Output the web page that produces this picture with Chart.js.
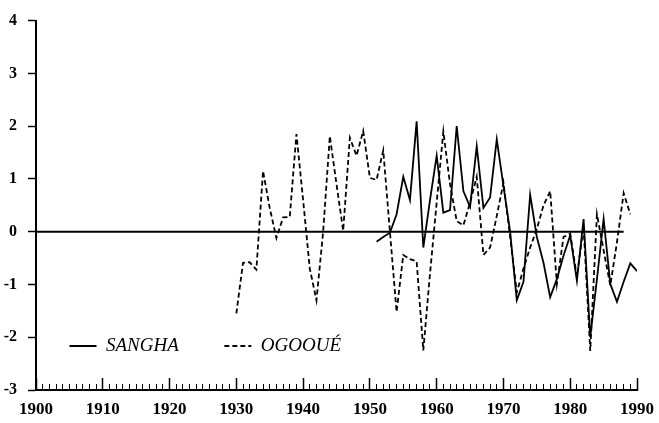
<!DOCTYPE html>
<html>
<head>
<meta charset="utf-8">
<script src="https://cdn.jsdelivr.net/npm/chart.js@4.4.0/dist/chart.umd.min.js"></script>
<style>
  html, body { margin: 0; padding: 0; background: #ffffff; }
  #wrap { width: 659px; height: 423px; }
</style>
</head>
<body>
<div id="wrap"><canvas id="c" width="659" height="423"></canvas></div>
<script>
// ---- data ----
const seriesNames = ['SANGHA', 'OGOOUÉ'];

const sanghaYears = [1951, 1952, 1953, 1954, 1955, 1956, 1957, 1958, 1959, 1960,
                     1961, 1962, 1963, 1964, 1965, 1966, 1967, 1968, 1969, 1970,
                     1971, 1972, 1973, 1974, 1975, 1976, 1977, 1978, 1979, 1980,
                     1981, 1982, 1983, 1984, 1985, 1986, 1987, 1988, 1989, 1990];
const sanghaValues = [-0.19, -0.1, -0.02, 0.33, 1.04, 0.6, 2.09, -0.3, 0.6, 1.44,
                      0.36, 0.41, 2.0, 0.77, 0.47, 1.62, 0.45, 0.65, 1.75, 0.87,
                      0.0, -1.3, -0.95, 0.7, -0.1, -0.59, -1.24, -0.9, -0.45, -0.07,
                      -0.93, 0.24, -2.0, -0.9, 0.24, -0.99, -1.33, -0.95, -0.6, -0.75];

const ogoueYears = [1930, 1931, 1932, 1933, 1934, 1935, 1936, 1937, 1938, 1939,
                    1940, 1941, 1942, 1943, 1944, 1945, 1946, 1947, 1948, 1949,
                    1950, 1951, 1952, 1953, 1954, 1955, 1956, 1957, 1958, 1959,
                    1960, 1961, 1962, 1963, 1964, 1965, 1966, 1967, 1968, 1969,
                    1970, 1971, 1972, 1973, 1974, 1975, 1976, 1977, 1978, 1979,
                    1980, 1981, 1982, 1983, 1984, 1985, 1986, 1987, 1988, 1989];
const ogoueValues = [-1.55, -0.59, -0.58, -0.72, 1.15, 0.45, -0.12, 0.27, 0.28, 1.85,
                     0.6, -0.7, -1.3, 0.0, 1.81, 0.9, 0.02, 1.78, 1.44, 1.91,
                     1.02, 0.98, 1.54, 0.0, -1.52, -0.44, -0.52, -0.56, -2.25, -0.8,
                     0.55, 1.9, 0.9, 0.2, 0.12, 0.55, 1.04, -0.44, -0.3, 0.3,
                     0.93, -0.1, -1.15, -0.7, -0.3, 0.05, 0.5, 0.77, -0.99, -0.1,
                     -0.04, -0.85, 0.1, -2.26, 0.33, -0.35, -1.02, -0.2, 0.73, 0.33];

const zeroLineYears = [1900, 1988];
const zeroLineValues = [0, 0];

const xRange = [1900, 1990];
const yRange = [-3, 4];

// ---- helpers ----
function toPoints(xs, ys) { return xs.map((x, i) => ({ x: x, y: ys[i] })); }

const SERIF = "'Liberation Serif', 'DejaVu Serif', serif";

// Puts the library legend inside the plot area (bottom-left) without it taking layout space
const LEGEND_LEFT = 24, LEGEND_TOP = 291;
const legendPlacer = {
  id: 'legendPlacer',
  afterInit(chart) {
    const lg = chart.legend;
    if (!lg) return;
    const origFit = lg.fit.bind(lg);
    lg.fit = function () { origFit(); this._fullH = this.height; this.height = 0; };
  },
  afterLayout(chart) {
    const lg = chart.legend;
    if (!lg) return;
    lg.left = LEGEND_LEFT;
    lg.top = LEGEND_TOP;
    lg.right = 659;
    lg.width = lg.right - lg.left;
    lg.height = Math.max(lg._fullH || 0, 60);
    lg.bottom = lg.top + lg.height;
  }
};

new Chart(document.getElementById('c'), {
  type: 'line',
  data: {
    datasets: [
      { label: seriesNames[0], data: toPoints(sanghaYears, sanghaValues),
        borderColor: '#000', backgroundColor: '#000', borderWidth: 1.8,
        pointRadius: 0, tension: 0, fill: false },
      { label: seriesNames[1], data: toPoints(ogoueYears, ogoueValues),
        borderColor: '#000', backgroundColor: '#000', borderWidth: 1.8, borderDash: [5, 3],
        pointRadius: 0, tension: 0, fill: false },
      { label: '', data: toPoints(zeroLineYears, zeroLineValues),
        borderColor: '#000', borderWidth: 2, pointRadius: 0, tension: 0, fill: false }
    ]
  },
  options: {
    responsive: false,
    animation: false,
    devicePixelRatio: 1,
    layout: { padding: { top: 12, right: 22, left: 0, bottom: 0 } },
    plugins: {
      tooltip: { enabled: false },
      legend: {
        position: 'bottom',
        align: 'start',
        labels: {
          usePointStyle: true,
          pointStyle: 'line',
          pointStyleWidth: 27,
          color: '#000',
          padding: 45.5,
          font: { family: SERIF, size: 19, style: 'italic' },
          filter: (item) => item.datasetIndex < 2,
          generateLabels(chart) {
            const items = Chart.defaults.plugins.legend.labels.generateLabels(chart);
            items.forEach((it) => {
              const ds = chart.data.datasets[it.datasetIndex];
              it.lineDash = ds.borderDash || [];
              it.lineWidth = ds.borderWidth;
              it.strokeStyle = ds.borderColor;
            });
            return items;
          }
        }
      }
    },
    scales: {
      x: {
        type: 'linear', position: 'bottom', min: xRange[0], max: xRange[1], weight: 1,
        ticks: { stepSize: 10, autoSkip: false, maxRotation: 0, color: '#000', padding: 21,
                 font: { family: SERIF, size: 17, weight: 'bold' },
                 callback: (v) => String(v) },
        grid: { drawOnChartArea: false, drawTicks: true, tickLength: -12, tickWidth: 1.5, tickColor: '#000' },
        border: { display: true, color: '#000', width: 2 },
        afterFit(s) { s.height = 33; s.paddingLeft = 0; s.paddingRight = 0; }
      },
      xMinor: {
        type: 'linear', position: 'bottom', min: xRange[0], max: xRange[1], weight: 0,
        ticks: { display: false, stepSize: 1, autoSkip: false },
        grid: { drawOnChartArea: false, drawTicks: true, tickLength: -6, tickWidth: 1, tickColor: '#000' },
        border: { display: false },
        afterFit(s) { s.height = 0; s.paddingLeft = 0; s.paddingRight = 0; }
      },
      y: {
        type: 'linear', min: yRange[0], max: yRange[1],
        ticks: { stepSize: 1, color: '#000', padding: 11,
                 font: { family: SERIF, size: 16, weight: 'bold' } },
        grid: { drawOnChartArea: false, drawTicks: true, tickLength: 8, tickWidth: 1.5, tickColor: '#000' },
        border: { display: true, color: '#000', width: 2 },
        afterFit(s) { s.width = 36; }
      }
    }
  },
  plugins: [legendPlacer]
});
</script>
</body>
</html>
